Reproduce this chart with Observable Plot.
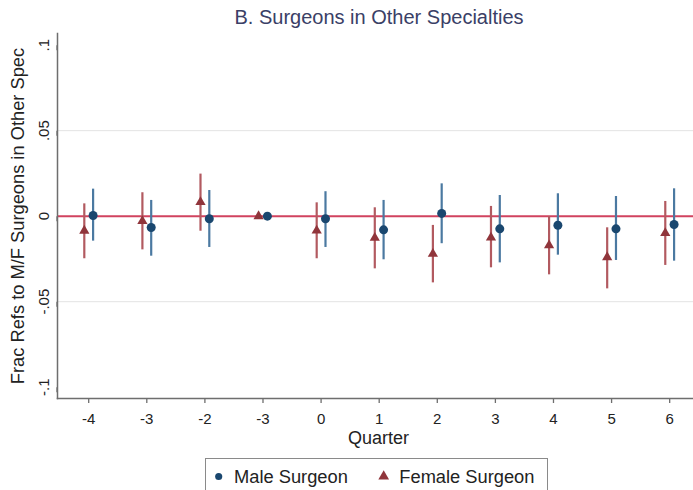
<!DOCTYPE html>
<html>
<head>
<meta charset="utf-8">
<script src="https://cdn.jsdelivr.net/npm/d3@7"></script>
<script src="https://cdn.jsdelivr.net/npm/@observablehq/plot@0.6"></script>
<style>
  body { margin: 0; background: #fff; font-family: "Liberation Sans", Arial, sans-serif; }
  #wrap { position: relative; width: 693px; height: 490px; overflow: hidden; background: #fff; }
  #title { position: absolute; left: 0; top: 2px; width: 693px; box-sizing: border-box; padding-left: 65px;
           text-align: center; font-size: 20px; line-height: 30px; color: #3a4066; }
  #chart { position: absolute; left: 0; top: 30px; }
  #legend { position: absolute; left: 205px; top: 458px; width: 343px; height: 40px;
            box-sizing: border-box; border: 1.5px solid #8a8a8a; background: #fff; }
</style>
</head>
<body>
<div id="wrap">
  <div id="title">B. Surgeons in Other Specialties</div>
  <div id="chart"></div>
  <div id="legend"></div>
</div>
<script>
// Event-study estimates by quarter (quarter -1 is the omitted reference period)
const quarters = [-4, -3, -2, -1, 0, 1, 2, 3, 4, 5, 6];
const quarterLabels = ["-4", "-3", "-2", "-3", "0", "1", "2", "3", "4", "5", "6"];

const maleEst = [0.0004, -0.0066, -0.0015, 0, -0.0015, -0.0080, 0.0016, -0.0074, -0.0053, -0.0074, -0.0049];
const maleLo  = [-0.0146, -0.0234, -0.0183, null, -0.0183, -0.0255, -0.0161, -0.0273, -0.0228, -0.0259, -0.0263];
const maleHi  = [0.0158, 0.0092, 0.0150, null, 0.0143, 0.0092, 0.0189, 0.0121, 0.0131, 0.0115, 0.0160];

const femaleEst = [-0.0085, -0.0029, 0.0082, 0, -0.0084, -0.0127, -0.0220, -0.0125, -0.0171, -0.0240, -0.0099];
const femaleLo  = [-0.0249, -0.0197, -0.0088, null, -0.0249, -0.0308, -0.0390, -0.0302, -0.0343, -0.0425, -0.0288];
const femaleHi  = [0.0072, 0.0137, 0.0246, null, 0.0078, 0.0049, -0.0054, 0.0057, -0.0002, -0.0068, 0.0086];

const series = ["Male Surgeon", "Female Surgeon"];
const yTicks = [-0.1, -0.05, 0, 0.05, 0.1];
const yTickLabels = ["-.1", "-.05", "0", ".05", ".1"];
const yGrid = [-0.05, 0.05];
const xTitle = "Quarter";
const yTitle = "Frac Refs to M/F Surgeons in Other Spec";

const toRows = (est, lo, hi, name) =>
  quarters.map((q, i) => ({quarter: q, est: est[i], lo: lo[i], hi: hi[i], series: name}));
const male = toRows(maleEst, maleLo, maleHi, series[0]);
const female = toRows(femaleEst, femaleLo, femaleHi, series[1]);
const hasCI = d => d.lo != null && d.hi != null;

const colors = {
  male: "#1a476f", maleCI: "#4b79a1",
  female: "#90353b", femaleCI: "#b25a60",
  zero: "#d1435f", axis: "#6e6e6e", text: "#222"
};

const chart = Plot.plot({
  width: 693,
  height: 425,
  marginTop: 3,
  marginBottom: 57,
  marginLeft: 57,
  marginRight: 0,
  style: {fontFamily: "Liberation Sans, Arial, sans-serif", fontSize: "15px", color: colors.text, background: "white"},
  x: {domain: [-4.537, 6.41]},
  y: {domain: [-0.1066, 0.1068]},
  marks: [
    Plot.gridY(yGrid, {stroke: "#e3e3e3", strokeOpacity: 1, strokeWidth: 1}),
    Plot.ruleY([0], {stroke: colors.zero, strokeWidth: 2}),
    // confidence intervals
    Plot.ruleX(female.filter(hasCI), {x: "quarter", y1: "lo", y2: "hi", stroke: colors.femaleCI, strokeWidth: 2.2, dx: -4.4}),
    Plot.ruleX(male.filter(hasCI), {x: "quarter", y1: "lo", y2: "hi", stroke: colors.maleCI, strokeWidth: 2.2, dx: 4.4}),
    // point estimates
    Plot.dot(female, {x: "quarter", y: "est", symbol: "triangle", r: 3.8, fill: colors.female, stroke: "none", dx: -4.4}),
    Plot.dot(male, {x: "quarter", y: "est", symbol: "circle", r: 4.5, fill: colors.male, stroke: "none", dx: 4.4}),
    // axes
    Plot.frame({anchor: "left", stroke: colors.axis, strokeWidth: 1.5}),
    Plot.frame({anchor: "bottom", stroke: colors.axis, strokeWidth: 1.5}),
    Plot.axisX({ticks: quarters, tickFormat: d => quarterLabels[quarters.indexOf(d)],
                tickSize: 5, tickPadding: 10, stroke: colors.axis, strokeWidth: 1.3, fill: colors.text, label: null}),
    Plot.axisY({ticks: yTicks, tickFormat: d => yTickLabels[yTicks.indexOf(d)],
                tickSize: 5, tickPadding: 8.5, rotate: -90, textAnchor: "middle", lineAnchor: "middle",
                stroke: colors.axis, strokeWidth: 1.3, fill: colors.text, label: null}),
    Plot.text([xTitle], {frameAnchor: "bottom", dy: 40, dx: 3, fontSize: 18, textAnchor: "middle", lineAnchor: "middle", fill: colors.text}),
    Plot.text([yTitle], {frameAnchor: "left", dx: -39, rotate: -90, fontSize: 18.3, textAnchor: "middle", lineAnchor: "middle", fill: colors.text})
  ]
});
document.getElementById("chart").appendChild(chart);

// Legend: one entry per series, symbol + label
const legendItems = [
  {label: series[0], symbol: d3.symbolCircle, size: 40, color: colors.male, sx: 12.7, tx: 28},
  {label: series[1], symbol: d3.symbolTriangle, size: 50, color: colors.female, sx: 177.7, tx: 193.3}
];
const leg = d3.select("#legend").append("svg").attr("width", 340).attr("height", 38)
  .style("position", "absolute").style("left", 0).style("top", 0);
for (const it of legendItems) {
  leg.append("path")
    .attr("d", d3.symbol(it.symbol, it.size)())
    .attr("transform", `translate(${it.sx},${17.5})`)
    .attr("fill", it.color);
  leg.append("text")
    .attr("x", it.tx).attr("y", 24.2)
    .attr("font-family", "Liberation Sans, Arial, sans-serif")
    .attr("font-size", 18.3)
    .attr("fill", colors.text)
    .text(it.label);
}
</script>
</body>
</html>
